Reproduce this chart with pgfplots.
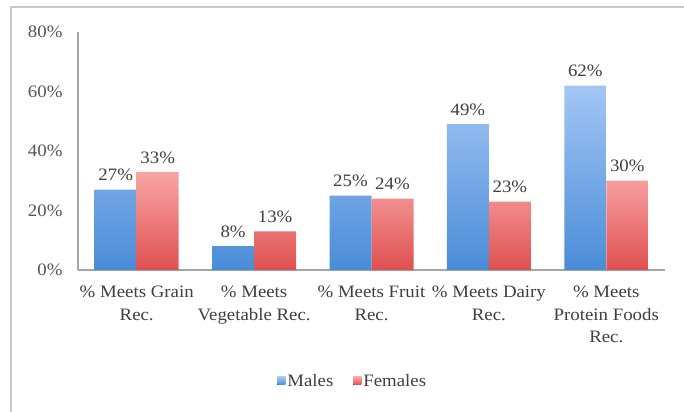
\documentclass[border=0pt]{standalone}
\usepackage{pgfplots}
\pgfplotsset{compat=1.18}
\usepackage{fontspec}
\setmainfont{Liberation Serif}[FakeStretch=1.08]
\definecolor{txt}{HTML}{404040}
\definecolor{tick}{HTML}{555555}
\definecolor{axisgray}{HTML}{A6A6A6}
\definecolor{framegray}{HTML}{C8C8C8}
\definecolor{btop}{HTML}{A3C6F5}
\definecolor{bbot}{HTML}{4A8CD8}
\definecolor{rtop}{HTML}{F9A5A5}
\definecolor{rbot}{HTML}{DF5050}
\begin{document}
\begin{tikzpicture}
\useasboundingbox (0,0) rectangle (684bp,412bp);
\fill[white] (0,0) rectangle (684bp,412bp);
\begin{axis}[
  at={(78bp,142bp)}, anchor=south west,
  scale only axis, width=587bp, height=238bp,
  ybar=0pt, bar width=42bp,
  xmin=-0.5, xmax=4.5, ymin=0, ymax=80,
  xtick=data,
  xticklabels={{\% Meets Grain\\Rec.},{\% Meets\\Vegetable Rec.},{\% Meets Fruit\\Rec.},{\% Meets Dairy\\Rec.},{\% Meets\\Protein Foods\\Rec.}},
  ytick={0,20,40,60,80},
  yticklabel={\pgfmathprintnumber{\tick}\%},
  /pgf/number format/assume math mode=true,
  axis x line=bottom, axis y line=left,
  axis line style={axisgray, line width=1.5bp, -},
  major tick length=0pt,
  clip=false,
  font=\fontsize{17.5}{22}\selectfont,
  xticklabel style={align=center, text=txt, anchor=north, yshift=-12bp, font=\fontsize{17.5}{23}\selectfont},
  yticklabel style={text=tick, xshift=-12bp},
  nodes near coords={\pgfmathprintnumber{\pgfplotspointmeta}\%},
  nodes near coords style={text=txt, font=\fontsize{17.5}{22}\selectfont, yshift=5bp},
  legend style={at={(0.468,-0.466)}, anchor=center, draw=none, legend columns=2,
    font=\fontsize{17.5}{22}\selectfont, text=txt,
    /tikz/every even column/.append style={column sep=18bp}},
  legend image code/.code={\fill[#1] (0bp,-4bp) rectangle (8bp,4bp);},
]
\addplot[draw=none, top color=btop, bottom color=bbot] coordinates {(0,27) (1,8) (2,25) (3,49) (4,62)};
\addplot[draw=none, top color=rtop, bottom color=rbot] coordinates {(0,33) (1,13) (2,24) (3,23) (4,30)};
\legend{Males, Females}
\end{axis}
\draw[framegray, line width=2bp] (10.5bp,0) -- (10.5bp,404.5bp) -- (684bp,404.5bp);
\end{tikzpicture}
\end{document}
